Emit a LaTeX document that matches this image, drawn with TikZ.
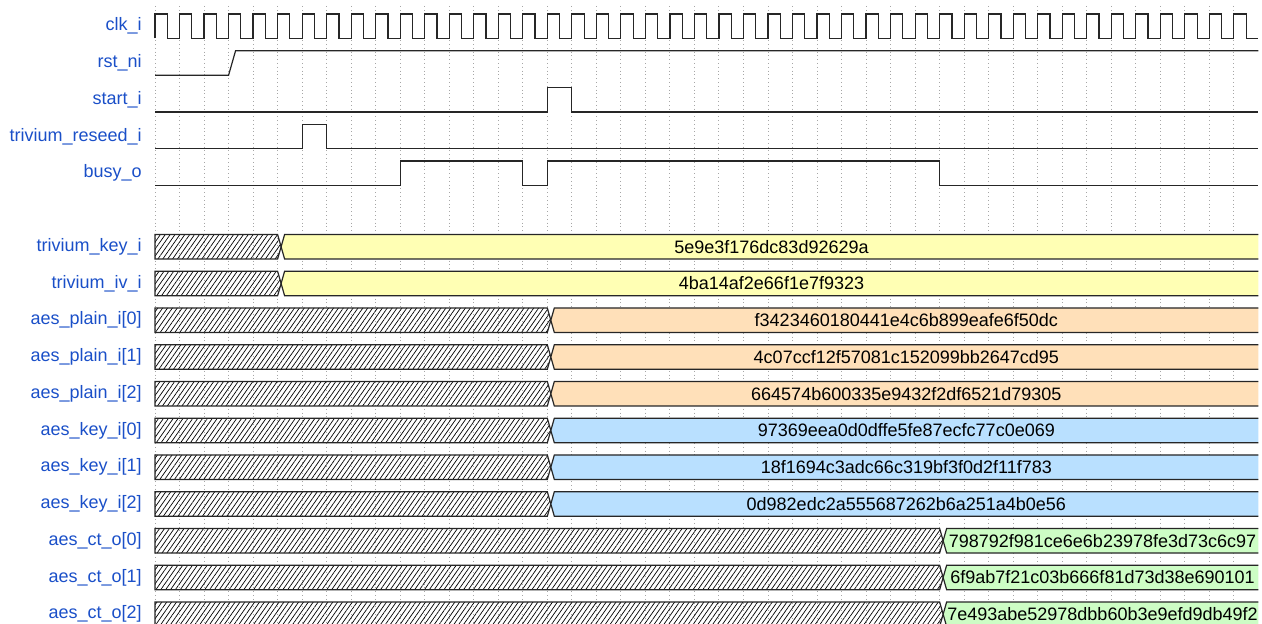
\documentclass[tikz,border=0pt]{standalone}
\usepackage{fontspec}
\setmainfont{Liberation Sans}
\usetikzlibrary{patterns.meta}
\definecolor{namecol}{HTML}{1A4FC8}
\definecolor{valyellow}{HTML}{FFFFB4}
\definecolor{valorange}{HTML}{FFE0B9}
\definecolor{valblue}{HTML}{B9E0FF}
\definecolor{valgreen}{HTML}{CDFDC5}
\tikzset{
    % Signal names - blue, right aligned
    sig name/.style={anchor=east, inner sep=0pt, text=namecol, font=\fontsize{9}{10}\selectfont},
    % One-bit waves
    wave/.style={line width=0.6pt, black!85, line join=miter},
    % Clock tick grid - gray dotted lines
    tick line/.style={gray!70, line width=0.5pt, dash pattern=on 0.5pt off 1.4pt},
    % Unknown bus values - hatched boxes
    unknown box/.style={draw=black!85, line width=0.6pt, pattern={Lines[angle=55, distance=2pt, line width=0.35pt]}},
    % Known bus values - outline and text
    value box/.style={black!85, line width=0.6pt},
    value text/.style={inner sep=0pt, font=\fontsize{9}{10}\selectfont}
}
% bus row: #1 row, #2 tick of change, #3 colour, #4 value, #5 node name, #6 signal name
\newcommand{\busrow}[6]{%
    \pgfmathsetmacro{\bTop}{14+36.75*#1}
    \pgfmathsetmacro{\bBot}{\bTop+24.5}
    \pgfmathsetmacro{\bMid}{\bTop+12.25}
    \pgfmathsetmacro{\bCh}{155+24.52*#2}
    \node[sig name] (name-#5) at (142,\bMid) {#6};
    \draw[unknown box] (155,\bTop) -- (\bCh,\bTop) -- (\bCh+3.5,\bMid) -- (\bCh,\bBot) -- (155,\bBot) -- cycle;
    \fill[#3] (\bCh+3.5,\bMid) -- (\bCh+7,\bTop) -- (1258.4,\bTop) -- (1258.4,\bBot) -- (\bCh+7,\bBot) -- cycle;
    \draw[value box] (1258.4,\bTop) -- (\bCh+7,\bTop) -- (\bCh+3.5,\bMid) -- (\bCh+7,\bBot) -- (1258.4,\bBot);
    \node[value text] (#5) at ({(\bCh+7+1258.4)/2},\bMid) {#4};
}
\begin{document}
\begin{tikzpicture}[x=0.5pt, y=-0.5pt]
    \useasboundingbox (0,0) rectangle (1262,624);
    \clip (0,0) rectangle (1262,624);

    % --- Grid ---
    \foreach \i in {0,...,44}
        \draw[tick line] (155+24.52*\i,6) -- (155+24.52*\i,630);

    % --- Signal names of the one-bit rows ---
    \node[sig name] (name-clk) at (142,26.25) {clk\_i};
    \node[sig name] (name-rst) at (142,63) {rst\_ni};
    \node[sig name] (name-start) at (142,99.75) {start\_i};
    \node[sig name] (name-reseed) at (142,136.5) {trivium\_reseed\_i};
    \node[sig name] (name-busy) at (142,173.25) {busy\_o};

    % --- One-bit waves ---
    % clk_i
    \draw[wave] (155,38.5) \foreach \i in {0,...,44} {
        -- ++(0,-24.5) -- ++(12.26,0) -- ++(0,24.5) -- ++(12.26,0)};
    % rst_ni
    \draw[wave] (155,75.25) -- (228.56,75.25) -- (235.56,50.75) -- (1258.4,50.75);
    % start_i
    \draw[wave] (155,112) -- (547.32,112) -- (547.32,87.5) -- (571.84,87.5) -- (571.84,112) -- (1258.4,112);
    % trivium_reseed_i
    \draw[wave] (155,148.75) -- (302.12,148.75) -- (302.12,124.25) -- (326.64,124.25) -- (326.64,148.75) -- (1258.4,148.75);
    % busy_o
    \draw[wave] (155,185.5) -- (400.2,185.5) -- (400.2,161) -- (522.8,161) -- (522.8,185.5)
        -- (547.32,185.5) -- (547.32,161) -- (939.64,161) -- (939.64,185.5) -- (1258.4,185.5);

    % --- Bus rows ---
    \busrow{6}{5}{valyellow}{5e9e3f176dc83d92629a}{tkey}{trivium\_key\_i}
    \busrow{7}{5}{valyellow}{4ba14af2e66f1e7f9323}{tiv}{trivium\_iv\_i}
    \busrow{8}{16}{valorange}{f3423460180441e4c6b899eafe6f50dc}{plain0}{aes\_plain\_i[0]}
    \busrow{9}{16}{valorange}{4c07ccf12f57081c152099bb2647cd95}{plain1}{aes\_plain\_i[1]}
    \busrow{10}{16}{valorange}{664574b600335e9432f2df6521d79305}{plain2}{aes\_plain\_i[2]}
    \busrow{11}{16}{valblue}{97369eea0d0dffe5fe87ecfc77c0e069}{key0}{aes\_key\_i[0]}
    \busrow{12}{16}{valblue}{18f1694c3adc66c319bf3f0d2f11f783}{key1}{aes\_key\_i[1]}
    \busrow{13}{16}{valblue}{0d982edc2a555687262b6a251a4b0e56}{key2}{aes\_key\_i[2]}
    \busrow{14}{32}{valgreen}{798792f981ce6e6b23978fe3d73c6c97}{ct0}{aes\_ct\_o[0]}
    \busrow{15}{32}{valgreen}{6f9ab7f21c03b666f81d73d38e690101}{ct1}{aes\_ct\_o[1]}
    \busrow{16}{32}{valgreen}{7e493abe52978dbb60b3e9efd9db49f2}{ct2}{aes\_ct\_o[2]}
\end{tikzpicture}
\end{document}
